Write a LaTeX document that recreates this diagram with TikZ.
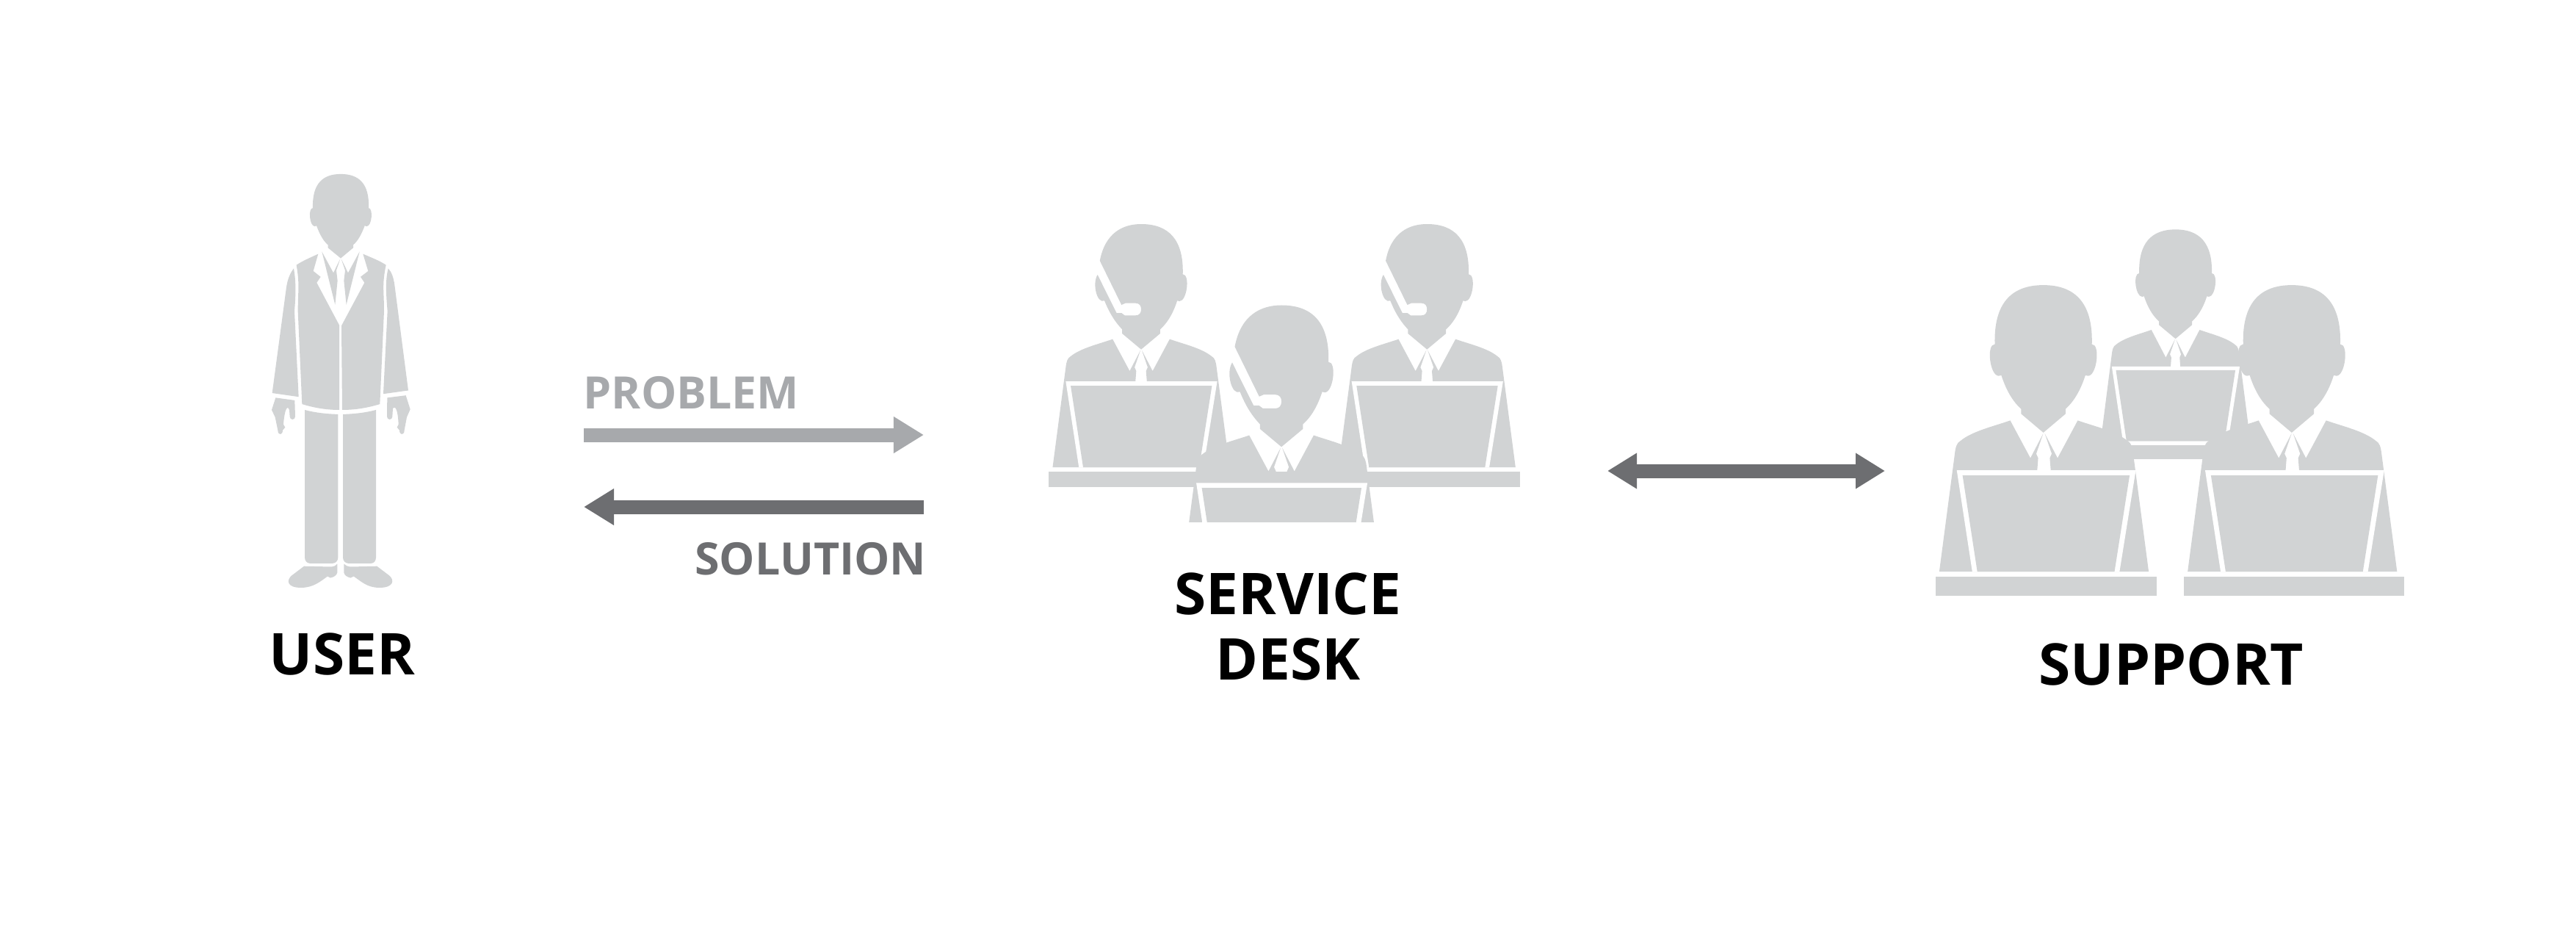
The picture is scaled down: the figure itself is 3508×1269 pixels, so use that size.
\documentclass[tikz,border=0pt]{standalone}
\usepackage{fontspec}
\usepackage{tikz}
\setmainfont{Open Sans}
\usetikzlibrary{arrows.meta, positioning}
\definecolor{figgrey}{HTML}{D1D3D4}
\definecolor{lightarrow}{HTML}{A7A9AC}
\definecolor{darkarrow}{HTML}{6D6E71}
\tikzset{
    bigtext/.style={inner sep=0pt, align=center, text=black, font=\fontsize{22.3}{25.5}\selectfont\bfseries},
    smalltext/.style={inner sep=0pt, font=\fontsize{17.3}{20}\selectfont\bfseries},
    arrow/.style={line width=0.19cm, -{Triangle[length=0.41cm, width=0.47cm]}},
    twoway/.style={line width=0.19cm, {Triangle[length=0.4cm, width=0.46cm]}-{Triangle[length=0.4cm, width=0.46cm]}, darkarrow}
}
\newcommand{\staffbody}{
    \fill[figgrey] (-87,-42) -- (-35,88) -- (-2,3) -- (-20,73) -- (-15,88) -- (-18,140) -- (18,140) -- (15,88) -- (20,73) -- (2,3) -- (35,88) -- (87,-42)
        .. controls (130,-22) and (185,-5) .. (215,28) .. controls (225,35) and (228,50) .. (230,73) -- (270,481) -- (-270,481) -- (-230,73)
        .. controls (-228,50) and (-225,35) .. (-215,28) .. controls (-185,-5) and (-130,-22) .. cycle;
}
\newcommand{\staffscreen}{
    \fill[white] (-230,130) -- (232,130) -- (190,481) -- (-190,481) -- cycle;
    \fill[figgrey] (-215,148) -- (216,148) -- (177,481) -- (-177,481) -- cycle;
}
\newcommand{\plainhead}{
    \fill[figgrey] (-127,-307) .. controls (-130,-447) and (-85,-512) .. (0,-512) .. controls (85,-512) and (130,-447) .. (127,-307)
        .. controls (150,-307) and (140,-197) .. (117,-197) -- (110,-199) .. controls (95,-137) and (75,-102) .. (58,-82) -- (58,-65) -- (0,0) -- (-58,-65) -- (-58,-82)
        .. controls (-75,-102) and (-95,-137) .. (-110,-199) -- (-117,-197) .. controls (-140,-197) and (-150,-307) .. cycle;
}
\newcommand{\headsethead}{
    \fill[figgrey] (-126,-362) .. controls (-110,-477) and (-55,-512) .. (0,-512) .. controls (85,-512) and (130,-447) .. (127,-307)
        .. controls (150,-307) and (140,-197) .. (117,-197) -- (110,-199) .. controls (95,-137) and (75,-102) .. (58,-82) -- (58,-65) -- (0,0) -- (-58,-65) -- (-58,-82)
        .. controls (-85,-120) and (-100,-160) .. (-112,-199) .. controls (-135,-185) and (-150,-270) .. (-133,-305) -- (-75,-149) -- (-60,-149) -- (-50,-139) -- (-17,-139)
        .. controls (-5,-139) and (0,-150) .. (0,-164) .. controls (0,-178) and (-5,-189) .. (-17,-189) -- (-48,-189) -- (-60,-182) -- cycle;
}
\newcommand{\agentfigure}{\staffbody \staffscreen \headsethead}

\begin{document}
\begin{tikzpicture}[x=0.01cm, y=-0.01cm]
    \useasboundingbox (0,0) rectangle (3508,1269);

    % user
    \begin{scope}[shift={(340,210)}, xscale=1/3, yscale=1/2.529]
        \fill[figgrey] (258,185) .. controls (255,100) and (300,68) .. (372,68) .. controls (445,68) and (490,100) .. (486,185) .. controls (505,185) and (500,248) .. (478,248) -- (470,246)
            .. controls (455,280) and (440,300) .. (423,312) -- (423,322) -- (372,358) -- (320,322) -- (320,312) .. controls (303,300) and (288,280) .. (273,246) -- (266,248)
            .. controls (244,248) and (238,185) .. cycle;
        % jacket
        \fill[figgrey] (191,381) .. controls (220,365) and (250,355) .. (280,343) -- (260,402) -- (290,422) -- (274,442) -- (366,588) -- (366,880) .. controls (310,880) and (260,872) .. (214,860) -- (197,540)
            .. controls (197,470) and (205,450) .. cycle;
        \fill[figgrey] (557,381) .. controls (528,365) and (495,355) .. (463,343) -- (484,402) -- (453,422) -- (469,442) -- (375,590) -- (378,880) .. controls (435,880) and (485,872) .. (532,860) -- (549,540)
            .. controls (549,470) and (540,450) .. cycle;
        % shirt
        \fill[figgrey] (295,335) -- (342,408) -- (370,360) -- (354,400) -- (359,435) -- (349,518) -- cycle;
        \fill[figgrey] (449,335) -- (402,408) -- (374,360) -- (390,400) -- (385,435) -- (395,518) -- cycle;
        % arms
        \fill[figgrey] (180,393) .. controls (160,415) and (152,440) .. (148,470) -- (92,822) -- (200,835) -- (183,540) .. controls (190,470) and (188,430) .. cycle;
        \fill[figgrey] (566,393) .. controls (580,405) and (588,425) .. (592,450) -- (648,813) -- (546,825) -- (563,540) .. controls (556,470) and (555,430) .. cycle;
        % hands
        \fill[figgrey] (106,838) -- (184,847) -- (186,903) .. controls (186,916) and (164,916) .. (164,903) -- (162,880) .. controls (150,855) and (140,900) .. (138,930) -- (145,940) -- (135,950) .. controls (135,968) and (115,968) .. (115,950) -- (104,905) -- (90,880) -- cycle;
        \fill[figgrey] (638,830) -- (562,838) -- (561,903) .. controls (561,916) and (583,916) .. (583,903) -- (585,875) .. controls (600,860) and (607,900) .. (608,930) -- (602,940) -- (612,950) .. controls (612,968) and (632,968) .. (632,950) -- (642,905) -- (656,878) -- cycle;
        % legs
        \fill[figgrey] (225,880) .. controls (270,890) and (315,894) .. (361,895) -- (361,1388) .. controls (361,1400) and (350,1408) .. (340,1408) -- (245,1408) .. controls (235,1408) and (225,1400) .. (225,1388) -- cycle;
        \fill[figgrey] (516,880) .. controls (472,890) and (425,894) .. (381,895) -- (381,1388) .. controls (381,1400) and (392,1408) .. (402,1408) -- (497,1408) .. controls (507,1408) and (516,1400) .. (516,1388) -- cycle;
        % shoes
        \fill[figgrey] (222,1418) -- (335,1420) .. controls (345,1420) and (352,1415) .. (358,1410) -- (358,1440) .. controls (355,1450) and (345,1455) .. (330,1458) -- (318,1453) .. controls (290,1470) and (260,1492) .. (210,1492) .. controls (150,1492) and (150,1465) .. (172,1450) -- cycle;
        \fill[figgrey] (520,1418) -- (410,1420) .. controls (400,1420) and (392,1415) .. (385,1410) -- (385,1440) .. controls (388,1450) and (398,1455) .. (412,1458) -- (425,1453) .. controls (455,1470) and (480,1492) .. (530,1492) .. controls (590,1492) and (592,1465) .. (570,1450) -- cycle;
    \end{scope}

    % service desk
    \begin{scope}[shift={(1400,280)}, xscale=1/2.24, yscale=1/3]
        \foreach \px in {345, 1217} {
            \begin{scope}[shift={(\px,587)}]
                \agentfigure
            \end{scope}
        }
        \fill[figgrey] (63,1086) rectangle (1501,1150);
        \begin{scope}
            \clip (0,0) rectangle (1568,1291);
            \begin{scope}[shift={(773,985)}, scale=1.13]
                \agentfigure
            \end{scope}
        \end{scope}
    \end{scope}

    % support
    \begin{scope}[shift={(2620,290)}, xscale=1/2.306, yscale=1/2.904]
        \begin{scope}[shift={(790,497)}, xscale=0.87, yscale=0.84]
            \staffbody
            \staffscreen
        \end{scope}
        \begin{scope}[shift={(790,497)}, xscale=0.897, yscale=0.844]
            \plainhead
        \end{scope}
        \fill[figgrey] (640,917) rectangle (890,973);
        \foreach \px/\tx in {375/37, 1155/816} {
            \begin{scope}[shift={(\px+2,868)}, xscale=1.218, yscale=1.143]
                \staffbody
            \end{scope}
            \begin{scope}[shift={(\px+8,868)}, xscale=1.217, yscale=1.143]
                \staffscreen
            \end{scope}
            \begin{scope}[shift={(\px,868)}, xscale=1.2, yscale=1.139]
                \plainhead
            \end{scope}
            \fill[figgrey] (\tx,1437) rectangle (\tx+693,1513);
        }
    \end{scope}

    \node (user) [bigtext, anchor=base] at (466,918) {USER};
    \node (desk) [bigtext, anchor=center] at (1754,853) {SERVICE\\DESK};
    \node (support) [bigtext, anchor=base] at (2957,932) {SUPPORT};

    \coordinate (probstart) at (795,592);
    \coordinate (probend) at (1258,592);
    \coordinate (solstart) at (1258,690);
    \coordinate (solend) at (795,690);
    \coordinate (deskport) at (2189,641);
    \coordinate (supportport) at (2567,641);

    \node (problem) [smalltext, text=lightarrow, anchor=base west] at (794,556) {PROBLEM};
    \node (solution) [smalltext, text=darkarrow, anchor=base east] at (1262,782) {SOLUTION};

    \draw [arrow, lightarrow] (probstart) -- (probend);
    \draw [arrow, darkarrow] (solstart) -- (solend);
    \draw [twoway] (deskport) -- (supportport);
\end{tikzpicture}
\end{document}
